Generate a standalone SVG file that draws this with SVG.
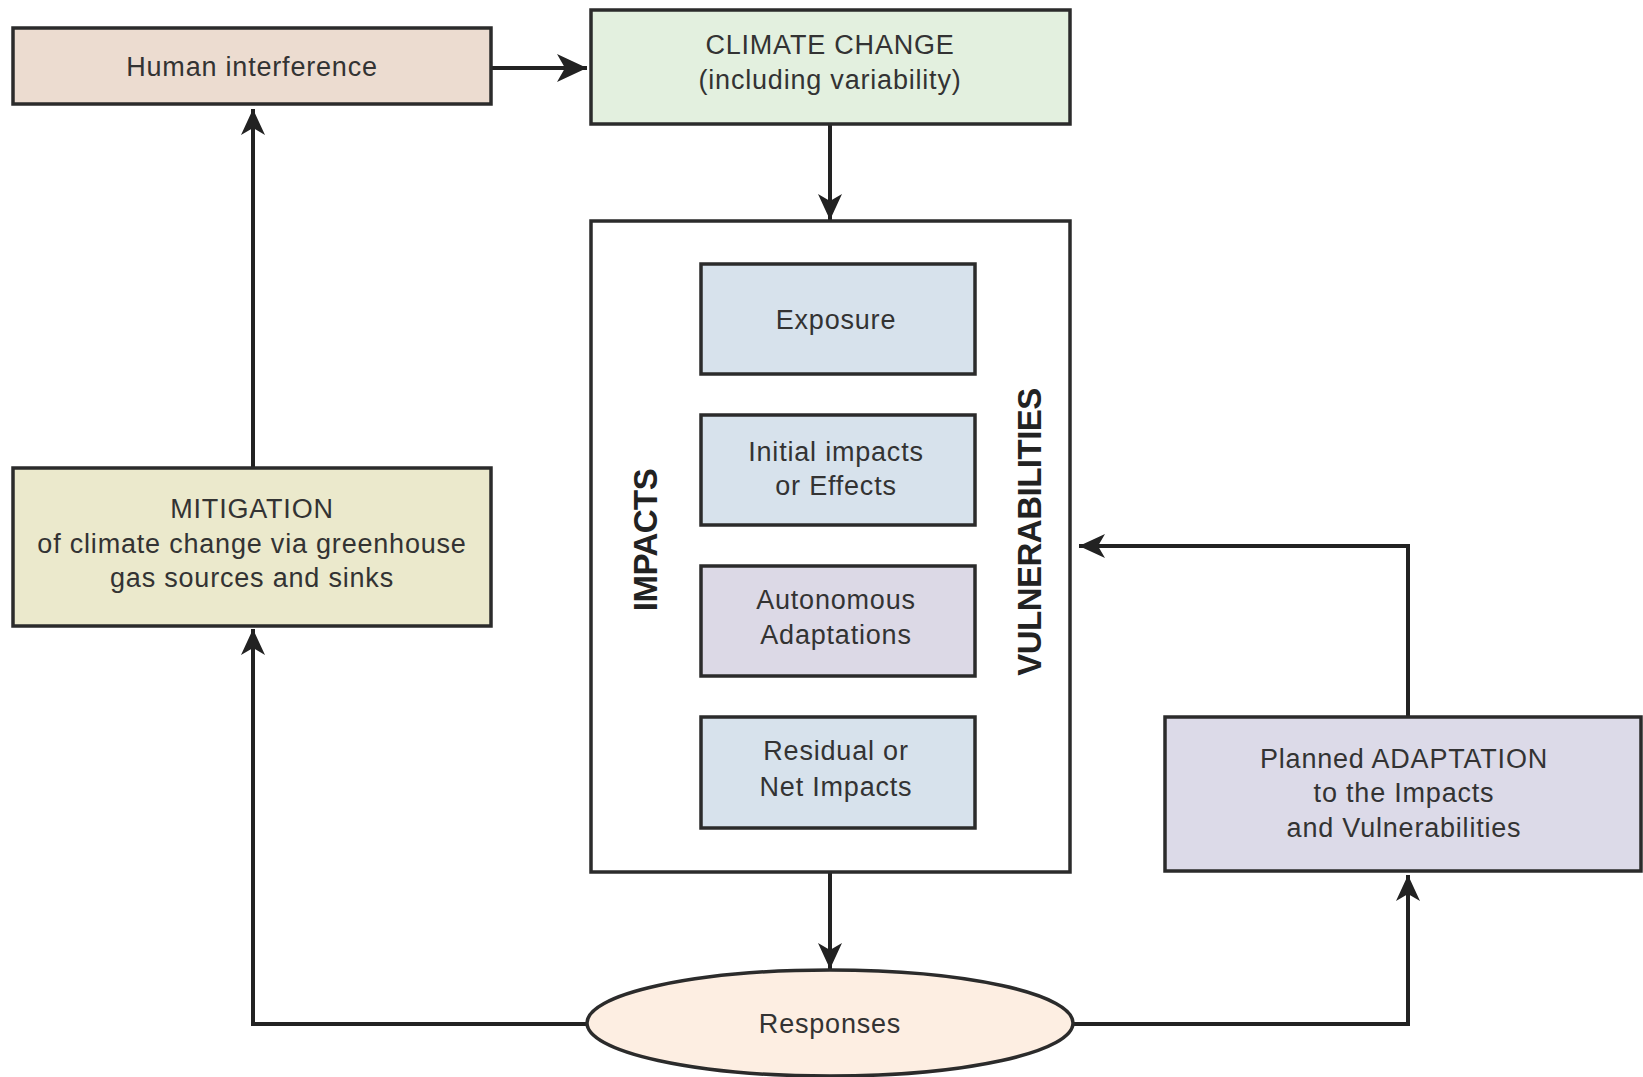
<svg xmlns="http://www.w3.org/2000/svg" width="1643" height="1077" viewBox="0 0 1643 1077">
<style>
.box{stroke:#2b2b2b;stroke-width:3.5}
.t{font-family:"Liberation Sans",Arial,sans-serif;font-size:27px;fill:#333;text-anchor:middle;letter-spacing:0.8px}
.b{font-family:"Liberation Sans",Arial,sans-serif;font-size:33px;font-weight:bold;fill:#222;text-anchor:middle;letter-spacing:-0.5px}
.c{fill:none;stroke:#222;stroke-width:4}
</style>
<defs>
<marker id="ah" markerUnits="userSpaceOnUse" markerWidth="28" markerHeight="24" refX="26" refY="12" orient="auto">
<path d="M0,0 L26,12 L0,24 L7,12 Z" fill="#222"/>
</marker>
<marker id="ahb" markerUnits="userSpaceOnUse" markerWidth="32" markerHeight="28" refX="30" refY="14" orient="auto">
<path d="M0,0 L30,14 L0,28 L8,14 Z" fill="#222"/>
</marker>
</defs>
<rect width="1643" height="1077" fill="#fff"/>
<g id="connectors">
<line class="c" x1="491" y1="68" x2="587" y2="68" stroke-width="7" marker-end="url(#ahb)"/>
<line class="c" x1="830" y1="124" x2="830" y2="220" marker-end="url(#ah)"/>
<line class="c" x1="253" y1="468" x2="253" y2="109" marker-end="url(#ah)"/>
<line class="c" x1="830" y1="872" x2="830" y2="969" marker-end="url(#ah)"/>
<polyline class="c" points="587,1024 253,1024 253,629" marker-end="url(#ah)"/>
<polyline class="c" points="1073,1024 1408,1024 1408,875" marker-end="url(#ah)"/>
<polyline class="c" points="1408,717 1408,546 1079,546" marker-end="url(#ah)"/>
</g>
<g id="human">
<rect class="box" x="13" y="28" width="478" height="76" fill="#ecdcd0"/>
<text class="t" x="252" y="76">Human interference</text>
</g>
<g id="climate">
<rect class="box" x="591" y="10" width="479" height="114" fill="#e3f0df"/>
<text class="t" x="830" y="54">CLIMATE CHANGE</text>
<text class="t" x="830" y="89">(including variability)</text>
</g>
<g id="impacts-vulnerabilities">
<rect class="box" x="591" y="221" width="479" height="651" fill="#fff"/>
<text class="b" transform="translate(645,540) rotate(-90)" y="12">IMPACTS</text>
<text class="b" transform="translate(1029,532) rotate(-90)" y="12">VULNERABILITIES</text>
</g>
<g id="exposure">
<rect class="box" x="701" y="264" width="274" height="110" fill="#d7e2ec"/>
<text class="t" x="836" y="329">Exposure</text>
</g>
<g id="initial">
<rect class="box" x="701" y="415" width="274" height="110" fill="#d7e2ec"/>
<text class="t" x="836" y="461">Initial impacts</text>
<text class="t" x="836" y="495">or Effects</text>
</g>
<g id="autonomous">
<rect class="box" x="701" y="566" width="274" height="110" fill="#dcd9e6"/>
<text class="t" x="836" y="609">Autonomous</text>
<text class="t" x="836" y="644">Adaptations</text>
</g>
<g id="residual">
<rect class="box" x="701" y="717" width="274" height="111" fill="#d7e2ec"/>
<text class="t" x="836" y="760">Residual or</text>
<text class="t" x="836" y="796">Net Impacts</text>
</g>
<g id="mitigation">
<rect class="box" x="13" y="468" width="478" height="158" fill="#ebe9cc"/>
<text class="t" x="252" y="518">MITIGATION</text>
<text class="t" x="252" y="553">of climate change via greenhouse</text>
<text class="t" x="252" y="587">gas sources and sinks</text>
</g>
<g id="planned">
<rect class="box" x="1165" y="717" width="476" height="154" fill="#dcdae8"/>
<text class="t" x="1404" y="768">Planned ADAPTATION</text>
<text class="t" x="1404" y="802">to the Impacts</text>
<text class="t" x="1404" y="837">and Vulnerabilities</text>
</g>
<g id="responses">
<ellipse class="box" cx="830" cy="1023" rx="243" ry="53" fill="#fdeee2"/>
<text class="t" x="830" y="1033">Responses</text>
</g>
</svg>
